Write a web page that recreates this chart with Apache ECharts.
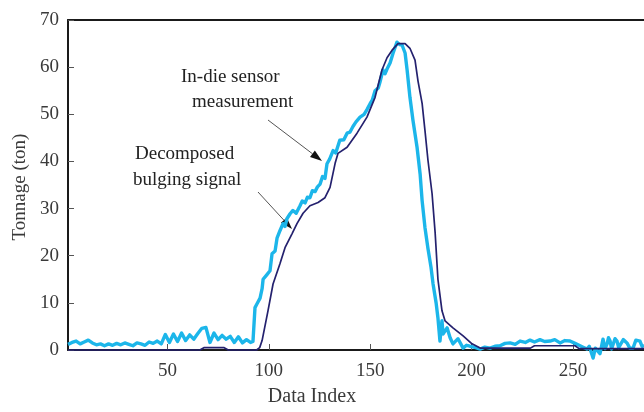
<!DOCTYPE html>
<html>
<head>
<meta charset="utf-8">
<script src="https://cdn.jsdelivr.net/npm/echarts@6/dist/echarts.min.js"></script>
<style>html,body{margin:0;padding:0;background:#fff}#c{width:644px;height:412px}</style>
</head>
<body>
<div id="c"></div>
<script>
// ---- data ----
const xTicks = [50, 100, 150, 200, 250];
const yTicks = [0, 10, 20, 30, 40, 50, 60, 70];

// In-die sensor measurement (cyan)
const sensorX = [1,3,5,7,9,11,13,15,17,19,21,23,25,27,29,31,33,35,37,39,41,43,45,47,49,51,53,55,57,59,61,63,65,67,69,71,73,75,77,79,81,83,85,87,89,91,92.2,
  93.2,94.2,95.7,96.7,97.2,99.1,100.6,101.6,103.1,104.1,105.5,107,108,109,110.5,111.9,113.5,115.4,116.5,117.9,119,120.3,121.5,122.8,124,125.3,126.5,127.7,128.7,130,131.7,133,135,137,138.6,140,141.5,143,145,147,148.4,150,151,152.4,154,154.8,156.3,157.3,158.3,159.8,161.3,163.2,164.5,165.7,167.2,168.2,169.6,171.1,173.1,174.6,175.6,177,178.5,180,181,182.5,183.4,184.4,185.4,185.9,187.9,189.4,190.8,193.3,195.8,197.5,199.2,
  202,204.2,206.5,209.1,211.5,214,216.5,219,221.5,223.9,226.5,228.8,231,233.7,236,238.7,241,243.6,246,248.5,251,253.5,255,256.9,258,259.9,261,261.8,263.3,264.8,265.8,266.8,267.5,268.3,269,269.7,270.7,271.7,272.5,273.2,274.8,276.6,278,279.6,281,283,284,285];
const sensorY = [1.2,1.6,1.9,1.3,1.7,2.1,1.5,1.1,1.3,0.9,1.3,1.0,1.4,1.1,1.5,1.2,0.9,1.5,1.3,1.0,1.7,1.4,1.9,1.3,3.3,1.6,3.4,1.8,3.6,2.0,3.2,2.3,3.5,4.6,4.8,1.6,3.6,2.2,3.1,2.3,2.9,1.6,2.8,1.5,2.2,1.6,1.8,
  9,9.8,11,13,15,16,16.8,20.4,21,23.8,25.3,26.8,26.2,27.9,28.9,29.6,29.0,30.6,31.6,31.2,32.4,32.3,33.8,33.6,34.6,35.2,36.8,36.4,39.5,40.5,42.3,41.8,44.5,44.6,46,46.2,47.4,48.4,49.4,50,51,52.3,53,55,55.6,56.8,59.4,58.6,59.6,60.9,63,65.3,64.8,64.7,63,59.4,53.6,48.7,43,37.4,31.7,26,21.5,17.5,14,10,6.8,1.9,6.2,3.4,4.7,2.6,1.3,2.4,0.4,1.0,0.8,
  0.5,0.2,0.6,0.4,0.8,0.9,1.4,1.5,1.2,1.9,1.6,2.1,1.7,2.2,1.8,1.9,2.2,1.5,2.0,1.9,1.4,0.9,0.6,0.2,0.8,-1.7,0.4,0.4,-0.8,2.3,0.3,1.3,2.6,1.9,0.2,0.4,2.4,1.9,0.5,0.9,2.2,1.5,0.4,0.4,2.1,1.9,0.8,0.9];

// Decomposed bulging signal (navy)
const bulgeX = [1,66,68,72,78,80,94,95.5,96.7,99.6,102.1,105.5,108,111.5,113.9,116.9,120.3,124.3,127.7,130.2,132.7,134.1,138.6,143.5,148.4,152.4,155.8,158.3,160.8,163.7,167.2,169.6,172.1,173.6,175.6,177,178.5,180.5,182,183.4,185.4,186.9,190.8,195.8,200.2,204.2,229,231,251,253,285];
const bulgeY = [0,0,0.5,0.5,0.5,0,0,0.5,2,8.3,14,18.3,21.7,24.7,26.8,29,30.6,31.3,32.3,34.5,39.6,41.7,43,46,49.4,53.6,59.4,62,63.6,65,65,64,61.5,57,52.3,46.6,40.2,33.2,25,15,8.3,6.2,4.7,3,1.3,0.4,0.4,0.9,0.9,0.3,0.3];

const zip = (a, b) => a.map((v, i) => [v, b[i]]);

const serif = '"Liberation Serif","DejaVu Serif",serif';
const axisCol = '#1a1a1a';
const labelCol = '#3a3a3a';

const chart = echarts.init(document.getElementById('c'), null, {renderer: 'canvas'});

function arrow(x1, y1, x2, y2) {
  const dx = x2 - x1, dy = y2 - y1, L = Math.hypot(dx, dy);
  const ux = dx / L, uy = dy / L, len = 12, hw = 4;
  const bx = x2 - ux * len, by = y2 - uy * len;
  return [
    {type: 'line', shape: {x1, y1, x2: bx, y2: by}, style: {stroke: '#555', lineWidth: 1}},
    {type: 'polygon', shape: {points: [[x2, y2], [bx - uy * hw, by + ux * hw], [bx + uy * hw, by - ux * hw]]}, style: {fill: '#111'}}
  ];
}

chart.setOption({
  animation: false,
  backgroundColor: '#fff',
  grid: {left: 68, right: 0, top: 20, bottom: 62, containLabel: false, outerBoundsMode: 'none'},
  xAxis: [{
    type: 'value', min: 1, max: 285, position: 'bottom',
    axisLine: {show: true, onZero: false, lineStyle: {color: axisCol, width: 2}},
    axisTick: {show: true, inside: true, length: 6, customValues: xTicks, lineStyle: {color: '#555'}},
    axisLabel: {customValues: xTicks, fontFamily: serif, fontSize: 19, color: labelCol, margin: 12},
    splitLine: {show: false}
  }, {
    type: 'value', min: 1, max: 285, position: 'top',
    axisLine: {show: true, onZero: false, lineStyle: {color: axisCol, width: 2}},
    axisTick: {show: false}, axisLabel: {show: false}, splitLine: {show: false}
  }],
  yAxis: {
    type: 'value', min: 0, max: 70, interval: 10,
    axisLine: {show: true, onZero: false, lineStyle: {color: axisCol, width: 2}},
    axisTick: {show: true, inside: true, length: 6, customValues: yTicks, lineStyle: {color: '#555'}},
    axisLabel: {customValues: yTicks, fontFamily: serif, fontSize: 19, color: labelCol, margin: 9},
    splitLine: {show: false}
  },
  series: [{
    name: 'In-die sensor measurement', type: 'line', data: zip(sensorX, sensorY),
    showSymbol: false, symbol: 'none', clip: false, z: 2,
    lineStyle: {color: '#1cb6ea', width: 3.4, join: 'round'}
  }, {
    name: 'Decomposed bulging signal', type: 'line', data: zip(bulgeX, bulgeY),
    showSymbol: false, symbol: 'none', clip: false, z: 3,
    lineStyle: {color: '#24216e', width: 1.7}
  }],
  graphic: [
    {type: 'text', x: 20, y: 187, rotation: Math.PI / 2, style: {text: 'Tonnage (ton)', font: '19px ' + serif, fill: labelCol, align: 'center', verticalAlign: 'middle'}},
    {type: 'text', x: 312, y: 397, style: {text: 'Data Index', font: '20px ' + serif, fill: labelCol, align: 'center', verticalAlign: 'middle'}},
    {type: 'text', x: 181, y: 77, style: {text: 'In-die sensor', font: '19px ' + serif, fill: '#222', align: 'left', verticalAlign: 'middle'}},
    {type: 'text', x: 192, y: 102, style: {text: 'measurement', font: '19px ' + serif, fill: '#222', align: 'left', verticalAlign: 'middle'}},
    {type: 'text', x: 135, y: 154, style: {text: 'Decomposed', font: '19px ' + serif, fill: '#222', align: 'left', verticalAlign: 'middle'}},
    {type: 'text', x: 133, y: 180, style: {text: 'bulging signal', font: '19px ' + serif, fill: '#222', align: 'left', verticalAlign: 'middle'}},
    ...arrow(268, 120, 322, 161),
    ...arrow(258, 192, 292, 229)
  ]
});
</script>
</body>
</html>
